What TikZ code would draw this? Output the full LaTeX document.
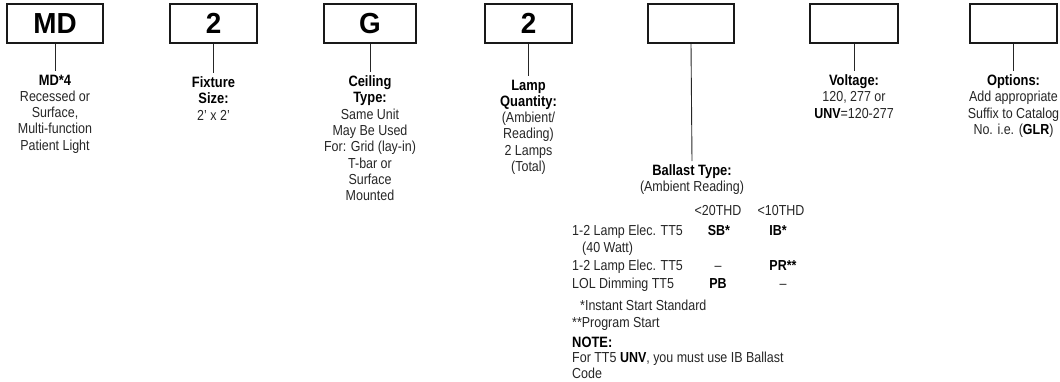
\documentclass[tikz,border=0pt]{standalone}
\usepackage{fontspec}
\setmainfont{Liberation Sans}[FakeStretch=0.86]
\newfontfamily\boxfont{Liberation Sans}[FakeStretch=0.96]
\usepackage{tikz}
\usetikzlibrary{positioning}

\newcommand{\hd}[1]{{\fontsize{15}{16.3}\selectfont\bfseries\color{black}#1}}
\newcommand{\bd}[1]{{\bfseries\color{black}#1}}

\tikzset{
  codebox/.style={draw=black!90, line width=1.2pt, minimum height=39pt, inner sep=0pt,
    font=\boxfont\fontsize{29}{29}\selectfont\bfseries},
  desc/.style={align=center, anchor=north, inner xsep=0pt, inner ysep=3.5pt,
    text=black!85, font=\fontsize{14.5}{16.3}\selectfont},
  tabtxt/.style={anchor=base west, inner sep=0pt, text=black!85, font=\fontsize{14.5}{16}\selectfont},
  tabcode/.style={anchor=base, inner sep=0pt, text=black!85, font=\fontsize{14.5}{16}\selectfont},
  lead/.style={line width=0.9pt, black!85}
}

\begin{document}
\begin{tikzpicture}[x=1pt,y=-1pt]
        \useasboundingbox (0,0) rectangle (1060,381);

        % code boxes
        \node[codebox, minimum width=96pt] (md) at (55,23.5) {MD};
        \node[codebox, minimum width=87pt] (size) at (213.5,23.5) {2};
        \node[codebox, minimum width=92pt] (ceil) at (370,23.5) {G};
        \node[codebox, minimum width=87pt] (lamps) at (528.5,23.5) {2};
        \node[codebox, minimum width=86pt] (ballast) at (691,23.5) {};
        \node[codebox, minimum width=88pt] (volt) at (854,23.5) {};
        \node[codebox, minimum width=87pt] (opt) at (1013.5,23.5) {};

        % descriptions
        \node[desc] (mdtxt) at (55,71) {\hd{MD*4}\\Recessed or\\Surface,\\Multi-function\\Patient Light};
        \node[desc] (sizetxt) at (213.5,73) {\hd{Fixture}\\\hd{Size:}\\2' x 2'};
        \node[desc] (ceiltxt) at (370,72) {\hd{Ceiling}\\\hd{Type:}\\Same Unit\\May Be Used\\For: Grid (lay-in)\\T-bar or\\Surface\\Mounted};
        \node[desc] (lampstxt) at (528.5,76) {\hd{Lamp}\\\hd{Quantity:}\\(Ambient/\\Reading)\\2 Lamps\\(Total)};
        \node[desc] (volttxt) at (854,71) {\hd{Voltage:}\\120, 277 or\\\bd{UNV}=120-277};
        \node[desc] (opttxt) at (1013.5,71) {\hd{Options:}\\Add appropriate\\Suffix to Catalog\\No. i.e. (\bd{GLR})};
        \node[desc] (ballasttxt) at (692,161) {\hd{Ballast Type:}\\(Ambient Reading)};

        % leads
        \draw[lead] (md.south) -- (mdtxt.north);
        \draw[lead] (size.south) -- (sizetxt.north);
        \draw[lead] (ceil.south) -- (ceiltxt.north);
        \draw[lead] (lamps.south) -- (lampstxt.north);
        \draw[lead] (volt.south) -- (volttxt.north);
        \draw[lead] (opt.south) -- (opttxt.north);
        \draw[lead] (ballast.south) -- (ballasttxt.north);

        % ballast table
        \node[tabcode] (thd20) at (718,215) {<20THD};
        \node[tabcode] (thd10) at (781,215) {<10THD};
        \node[tabtxt] (row1) at (572,235) {1-2 Lamp Elec. TT5};
        \node[tabcode] (sb) at (719,235) {\bd{SB*}};
        \node[tabcode] (ib) at (778,235) {\bd{IB*}};
        \node[tabtxt] (watt) at (582,252) {(40 Watt)};
        \node[tabtxt] (row2) at (572,270) {1-2 Lamp Elec. TT5};
        \node[tabcode] (nosb) at (718,270) {--};
        \node[tabcode] (pr) at (783,270) {\bd{PR**}};
        \node[tabtxt] (row3) at (572,288) {LOL Dimming TT5};
        \node[tabcode] (pb) at (718,288) {\bd{PB}};
        \node[tabcode] (nopr) at (783,288) {--};
        \node[tabtxt] (instant) at (580,310) {*Instant Start Standard};
        \node[tabtxt] (program) at (572,327) {**Program Start};
        \node[tabtxt] (note) at (572,347) {\hd{NOTE:}};
        \node[tabtxt] (notea) at (572,362) {For TT5 \bd{UNV}, you must use IB Ballast};
        \node[tabtxt] (noteb) at (572,378) {Code};
\end{tikzpicture}
\end{document}
